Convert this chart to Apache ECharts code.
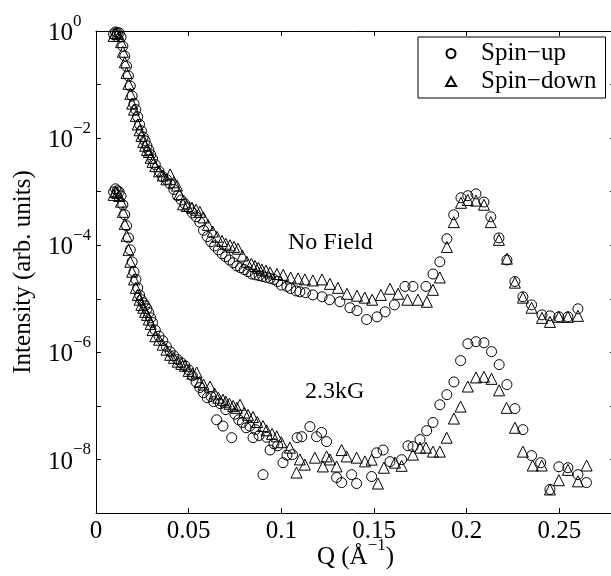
<!DOCTYPE html>
<html>
<head>
<meta charset="utf-8">
<title>Spin-up / Spin-down</title>
<script src="https://cdn.jsdelivr.net/npm/echarts@6/dist/echarts.min.js"></script>
<style>
html, body { margin: 0; padding: 0; background: #fff; }
#myChart { width: 611px; height: 576px; }
</style>
</head>
<body>
<div id="myChart"></div>
<script>
// [Q (1/A), intensity]
var noFieldUp = [
	[0.0095,0.88],[0.0105,0.96],[0.0115,0.93],[0.0125,0.92],[0.0135,0.77],[0.0145,0.52],[0.0155,0.34],[0.0165,0.22],
	[0.0175,0.145],[0.0185,0.094],[0.0195,0.061],[0.0205,0.044],[0.0215,0.034],[0.0225,0.025],[0.0235,0.018],[0.0245,0.0137],
	[0.0255,0.0105],[0.0265,0.0089],[0.0275,0.0072],[0.0285,0.006],[0.0295,0.0049],[0.0305,0.0041],[0.032,0.0032],[0.034,0.0024],
	[0.036,0.0019],[0.038,0.0017],[0.040,0.0014],[0.042,0.0011],[0.044,8.4e-4],[0.046,7.0e-4],[0.048,5.9e-4],[0.050,5.0e-4],
	[0.052,4.0e-4],[0.054,3.4e-4],[0.056,2.7e-4],[0.058,1.9e-4],[0.060,1.45e-4],[0.062,1.16e-4],[0.064,9.7e-5],[0.066,8.2e-5],
	[0.068,6.9e-5],[0.070,6.1e-5],[0.072,5.3e-5],[0.074,4.7e-5],[0.076,4.1e-5],[0.078,3.8e-5],[0.080,3.5e-5],[0.082,3.2e-5],
	[0.084,2.9e-5],[0.086,2.8e-5],[0.088,2.7e-5],[0.090,2.6e-5],[0.092,2.5e-5],[0.094,2.4e-5],[0.096,2.3e-5],[0.098,2.1e-5],
	[0.100,1.8e-5],[0.103,1.7e-5],[0.105,1.55e-5],[0.108,1.4e-5],[0.110,1.35e-5],[0.113,1.3e-5],[0.117,1.18e-5],[0.122,1.09e-5],
	[0.126,9.6e-6],[0.1316,8.8e-6],[0.137,6.8e-6],[0.1408,6.0e-6],[0.146,4.1e-6],[0.1516,4.6e-6],[0.156,5.7e-6],[0.161,7.7e-6],
	[0.1667,1.7e-5],[0.171,1.7e-5],[0.178,1.7e-5],[0.1818,2.9e-5],[0.1855,4.9e-5],[0.1893,1.32e-4],[0.193,3.7e-4],[0.1969,7.7e-4],
	[0.2006,8.4e-4],[0.205,9.1e-4],[0.2093,6.4e-4],[0.213,3.4e-4],[0.2174,1.37e-4],[0.2217,5.3e-5],[0.226,2.1e-5],[0.2303,1.09e-5],
	[0.235,7.7e-6],[0.2406,5.0e-6],[0.2449,4.8e-6],[0.2497,4.6e-6],[0.2546,4.6e-6],[0.26,6.5e-6]
];
var noFieldDown = [
	[0.0095,0.81],[0.0105,0.92],[0.0115,0.88],[0.0125,0.81],[0.0135,0.62],[0.0145,0.41],[0.0155,0.26],[0.0165,0.165],
	[0.0175,0.103],[0.0185,0.067],[0.0195,0.044],[0.0205,0.034],[0.0215,0.026],[0.0225,0.018],[0.0235,0.014],[0.0245,0.011],
	[0.0255,0.0085],[0.0265,0.0072],[0.0275,0.006],[0.0285,0.0055],[0.0295,0.0043],[0.0305,0.0036],[0.032,0.003],[0.034,0.0024],
	[0.036,0.002],[0.038,0.0017],[0.040,0.0021],[0.042,0.0015],[0.0437,0.0013],[0.045,9.0e-4],[0.047,5.8e-4],[0.049,5.4e-4],
	[0.0518,5.0e-4],[0.054,4.6e-4],[0.056,4.2e-4],[0.058,3.3e-4],[0.0604,2.4e-4],[0.063,1.8e-4],[0.0653,1.44e-4],[0.068,1.2e-4],
	[0.070,1.07e-4],[0.0723,1.0e-4],[0.0745,9.3e-5],[0.0766,8.6e-5],[0.079,6.4e-5],[0.0814,4.9e-5],[0.0838,4.5e-5],[0.0858,4.1e-5],
	[0.0876,3.8e-5],[0.0895,3.5e-5],[0.0917,3.35e-5],[0.0939,3.1e-5],[0.0976,2.9e-5],[0.101,2.8e-5],[0.105,2.5e-5],[0.109,2.4e-5],
	[0.1127,2.3e-5],[0.117,2.2e-5],[0.1219,2.3e-5],[0.1262,1.9e-5],[0.1305,1.6e-5],[0.1354,1.24e-5],[0.1408,1.14e-5],[0.145,1.05e-5],
	[0.149,9.6e-6],[0.1537,1.18e-5],[0.1586,1.54e-5],[0.163,1.24e-5],[0.168,9.6e-6],[0.1737,9.6e-6],[0.1785,8.8e-6],[0.1818,1.47e-5],
	[0.1855,2.5e-5],[0.1893,9.3e-5],[0.193,2.7e-4],[0.1969,6.2e-4],[0.2006,7.0e-4],[0.205,6.8e-4],[0.2093,5.7e-4],[0.213,2.7e-4],
	[0.2174,1.26e-4],[0.2217,5.6e-5],[0.226,2.0e-5],[0.2303,1.05e-5],[0.235,6.8e-6],[0.2406,4.4e-6],[0.2449,3.7e-6],[0.2497,4.6e-6],
	[0.2546,4.6e-6],[0.26,4.8e-6]
];
var fieldUp = [
	[0.0095,9.9e-4],[0.0105,1.13e-3],[0.0115,1.04e-3],[0.0125,9.9e-4],[0.0135,8.3e-4],[0.0145,5.7e-4],[0.0155,3.7e-4],[0.0165,2.3e-4],
	[0.0175,1.37e-4],[0.0185,8.2e-5],[0.0195,4.9e-5],[0.0205,3.2e-5],[0.0215,2.3e-5],[0.0225,1.6e-5],[0.0235,1.18e-5],[0.0245,9.6e-6],
	[0.0255,8.4e-6],[0.0265,7.4e-6],[0.0275,6.5e-6],[0.0285,5.5e-6],[0.0295,4.4e-6],[0.0305,3.6e-6],[0.032,2.6e-6],[0.034,2.0e-6],
	[0.036,1.65e-6],[0.038,1.28e-6],[0.040,1.03e-6],[0.042,8.6e-7],[0.044,7.3e-7],[0.046,6.4e-7],[0.048,5.6e-7],[0.050,4.7e-7],
	[0.052,3.65e-7],[0.054,2.8e-7],[0.056,2.2e-7],[0.058,1.76e-7],[0.060,1.42e-7],[0.062,1.5e-7],[0.0635,1.2e-7],[0.0651,5.5e-8],
	[0.067,1.1e-7],[0.0685,4.2e-8],[0.070,8.5e-8],[0.0732,2.55e-8],[0.075,7.0e-8],[0.077,5.5e-8],[0.079,4.9e-8],[0.081,3.9e-8],
	[0.083,4.2e-8],[0.0847,2.55e-8],[0.086,3.6e-8],[0.088,2.8e-8],[0.0901,5.2e-9],[0.092,2.6e-8],[0.0939,1.5e-8],[0.096,1.96e-8],
	[0.098,1.8e-8],[0.1009,8.7e-9],[0.103,1.2e-8],[0.106,1.23e-8],[0.1085,2.55e-8],[0.111,2.66e-8],[0.1154,4.1e-8],[0.119,2.66e-8],
	[0.1217,3.2e-8],[0.1244,2.15e-8],[0.1298,4.6e-9],[0.1325,3.7e-9],[0.1379,5.2e-9],[0.1406,3.55e-9],[0.1487,4.8e-9],[0.1514,1.33e-8],
	[0.1549,1.5e-8],[0.1586,9.1e-9],[0.1649,9.9e-9],[0.1683,1.8e-8],[0.171,1.73e-8],[0.1748,2.35e-8],[0.1784,3.45e-8],[0.1818,4.9e-8],
	[0.1855,1.05e-7],[0.1893,1.62e-7],[0.1931,2.8e-7],[0.1967,7.0e-7],[0.2006,1.45e-6],[0.205,1.58e-6],[0.2093,1.51e-6],[0.2134,1.03e-6],
	[0.2175,5.9e-7],[0.2217,2.5e-7],[0.226,8.9e-8],[0.2303,3.6e-8],[0.235,1.18e-8],[0.2399,8.7e-9],[0.2449,2.75e-9],[0.2497,7.3e-9],
	[0.2546,7.0e-9],[0.26,5.2e-9],[0.2646,3.7e-9]
];
var fieldDown = [
	[0.0095,8.7e-4],[0.0105,9.9e-4],[0.0115,9.5e-4],[0.0125,8.3e-4],[0.0135,6.5e-4],[0.0145,4.2e-4],[0.0155,2.5e-4],[0.0165,1.5e-4],
	[0.0175,8.2e-5],[0.0185,4.9e-5],[0.0195,3.2e-5],[0.0205,2.3e-5],[0.0215,1.6e-5],[0.0225,1.18e-5],[0.0235,9.6e-6],[0.0245,7.7e-6],
	[0.0255,6.8e-6],[0.0265,5.7e-6],[0.0275,5.0e-6],[0.0285,4.1e-6],[0.0295,3.4e-6],[0.0305,2.6e-6],[0.032,2.0e-6],[0.034,1.72e-6],
	[0.036,1.39e-6],[0.038,1.12e-6],[0.040,9.0e-7],[0.042,7.9e-7],[0.044,6.7e-7],[0.046,6.1e-7],[0.048,5.6e-7],[0.050,4.5e-7],
	[0.052,4.0e-7],[0.0543,4.2e-7],[0.056,2.8e-7],[0.058,2.5e-7],[0.0615,2.3e-7],[0.064,1.7e-7],[0.066,1.42e-7],[0.0685,1.3e-7],
	[0.070,1.2e-7],[0.072,1.1e-7],[0.074,1.0e-7],[0.076,9.2e-8],[0.0777,1.05e-7],[0.080,7.5e-8],[0.082,6.8e-8],[0.0847,6.2e-8],
	[0.087,5.0e-8],[0.0901,4.2e-8],[0.092,3.5e-8],[0.095,3.0e-8],[0.0975,2.7e-8],[0.100,2.1e-8],[0.1046,1.66e-8],[0.1082,5.7e-9],
	[0.110,1.0e-8],[0.1127,8.0e-9],[0.1181,1.08e-8],[0.1224,7.4e-9],[0.1244,1.14e-8],[0.1262,1.0e-8],[0.1298,7.4e-9],[0.1325,1.5e-8],
	[0.1352,1.14e-8],[0.1406,1.08e-8],[0.1451,9.2e-9],[0.1487,9.9e-9],[0.1521,3.55e-9],[0.1553,7.0e-9],[0.1613,8.7e-9],[0.1649,7.6e-9],
	[0.171,1.23e-8],[0.1748,1.66e-8],[0.178,1.66e-8],[0.1818,1.4e-8],[0.1855,1.4e-8],[0.1892,2.55e-8],[0.1931,5.8e-8],[0.1967,9.7e-8],
	[0.2006,2.3e-7],[0.205,3.4e-7],[0.2093,3.5e-7],[0.2134,3.2e-7],[0.2175,1.95e-7],[0.2215,9.2e-8],[0.226,3.9e-8],[0.2303,1.4e-8],
	[0.2356,7.7e-9],[0.2405,7.7e-9],[0.2449,2.75e-9],[0.2497,4.1e-9],[0.2546,6.4e-9],[0.26,3.9e-9],[0.2647,7.7e-9]
];

var xTicks = [0, 0.05, 0.1, 0.15, 0.2, 0.25];
var yLabelExps = [0, -2, -4, -6, -8];
var legendNames = ['Spin\u2212up', 'Spin\u2212down'];
var notes = ['No Field', '2.3kG'];

var font = '"Liberation Serif", "Times New Roman", serif';
var myChart = echarts.init(document.getElementById('myChart'));

function marker(name, symbol, size, data) {
	return {
		name: name,
		type: 'scatter',
		symbol: symbol,
		symbolSize: size,
		data: data,
		xAxisIndex: 0,
		yAxisIndex: 0,
		itemStyle: { color: 'rgba(0,0,0,0)', borderColor: '#000', borderWidth: 1, opacity: 1 },
		emphasis: { disabled: true },
		silent: true
	};
}

var axisBase = {
	axisLine: { show: true, onZero: false, lineStyle: { color: '#000', width: 1 } },
	axisTick: { show: true, inside: true, length: 5, lineStyle: { color: '#000', width: 1 } },
	splitLine: { show: false }
};

function xFormat(v) {
	var r = Math.round(v * 1000) / 1000;
	return xTicks.indexOf(r) >= 0 ? String(r) : '';
}

function yFormat(v) {
	var e = Math.round(Math.log10(v));
	if (yLabelExps.indexOf(e) < 0) return '';
	return '{b|10}{s|' + (e < 0 ? '\u2212' + (-e) : e) + '}';
}

var supRich = {
	b: { fontSize: 25, fontFamily: font, color: '#000', lineHeight: 25, verticalAlign: 'bottom' },
	s: { fontSize: 17, fontFamily: font, color: '#000', lineHeight: 17, verticalAlign: 'bottom', padding: [0, 0, 16, 0] }
};

var option = {
	animation: false,
	backgroundColor: '#fff',
	grid: { left: 96, top: 31, width: 519, height: 482, outerBoundsMode: 'none', containLabel: false },
	legend: {
		data: legendNames,
		orient: 'vertical',
		left: 418,
		top: 37,
		padding: [4, 9, 4, 27],
		itemGap: 3,
		itemWidth: 10,
		itemHeight: 9,
		borderColor: '#000',
		borderWidth: 1,
		borderRadius: 0,
		selectedMode: false,
		textStyle: { fontSize: 25, fontFamily: font, color: '#000', lineHeight: 25, padding: [0, 0, 0, 20] }
	},
	xAxis: [
		Object.assign({}, axisBase, {
			type: 'value', position: 'bottom', min: 0, max: 0.28, interval: 0.05,
			axisLabel: { formatter: xFormat, fontSize: 25, fontFamily: font, color: '#000', margin: 6, showMaxLabel: false },
			name: '{b|Q (\u00c5}{s|\u22121}{b|)}',
			nameLocation: 'middle',
			nameGap: 32,
			nameMoveOverlap: false,
			nameTextStyle: { rich: supRich }
		}),
		Object.assign({}, axisBase, {
			type: 'value', position: 'top', min: 0, max: 0.28, interval: 0.05,
			axisLabel: { show: false }
		})
	],
	yAxis: [
		Object.assign({}, axisBase, {
			type: 'log', logBase: 10, position: 'left', min: 1e-9, max: 1, interval: 1,
			axisLabel: { formatter: yFormat, align: 'left', margin: 48, padding: [5, 0, 0, 0], rich: supRich },
			name: 'Intensity (arb. units)',
			nameLocation: 'middle',
			nameGap: 60,
			nameMoveOverlap: false,
			nameTextStyle: { fontSize: 25, fontFamily: font, color: '#000' }
		}),
		Object.assign({}, axisBase, {
			type: 'log', logBase: 10, position: 'right', min: 1e-9, max: 1, interval: 1,
			axisLabel: { show: false }
		})
	],
	graphic: [
		{ type: 'text', left: 288, top: 231, silent: true,
			style: { text: notes[0], font: '24px ' + font, fill: '#000' } },
		{ type: 'text', left: 305, top: 380, silent: true,
			style: { text: notes[1], font: '24px ' + font, fill: '#000' } }
	],
	series: [
		marker(legendNames[0], 'circle', 10, noFieldUp),
		marker(legendNames[1], 'triangle', 11, noFieldDown),
		marker(legendNames[0], 'circle', 10, fieldUp),
		marker(legendNames[1], 'triangle', 11, fieldDown)
	]
};

myChart.setOption(option);
</script>
</body>
</html>
